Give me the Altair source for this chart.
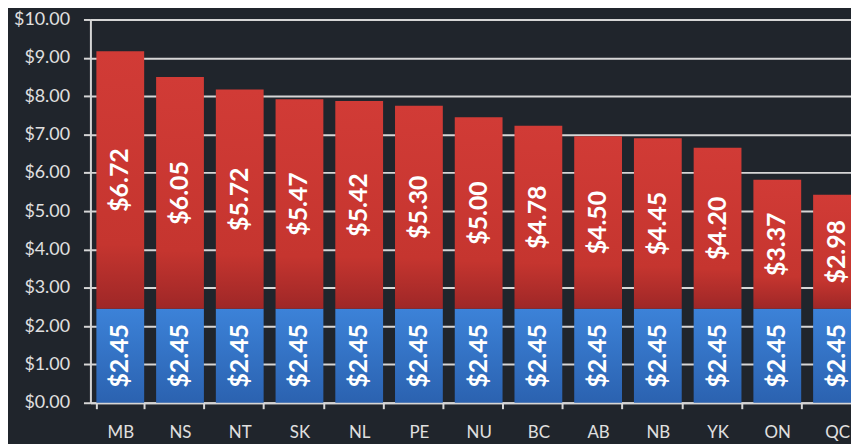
import altair as alt
import pandas as pd

provinces = ["MB", "NS", "NT", "SK", "NL", "PE", "NU", "BC", "AB", "NB", "YK", "ON", "QC"]
base_values = [2.45] * 13
extra_values = [6.72, 6.05, 5.72, 5.47, 5.42, 5.30, 5.00, 4.78, 4.50, 4.45, 4.20, 3.37, 2.98]

df = pd.DataFrame({"prov": provinces, "base": base_values, "extra": extra_values})

FONT = "Lato"
BG = "#20252c"
GRID = "#d6d6d6"

x_enc = alt.X(
    "prov:N",
    sort=provinces,
    scale=alt.Scale(range=[0, 782], paddingInner=0.2, paddingOuter=0.1),
    axis=alt.Axis(
        title=None, labelAngle=0, labelFont=FONT, labelFontSize=17, labelColor="#e0e0e0",
        labelPadding=16, tickBand="extent", tickSize=6, tickColor=GRID, tickWidth=2,
        domainColor=GRID, domainWidth=2, grid=False,
    ),
)
y_scale = alt.Scale(domain=[0, 10], nice=False)
y_axis = alt.Axis(
    title=None, values=list(range(0, 11)), format="$.2f", labelFont=FONT, labelFontSize=18,
    labelColor="#e0e0e0", labelPadding=14, tickSize=7, tickColor=GRID, tickWidth=2,
    domainColor=GRID, domainWidth=2, grid=True, gridColor=GRID, gridWidth=2,
)

base = alt.Chart(df).transform_calculate(
    total="datum.base + datum.extra",
    zero="0",
    mid_base="datum.base / 2",
    mid_extra="datum.base + datum.extra / 2",
)

blue_grad = alt.Gradient(
    gradient="linear", x1=0, x2=0, y1=0, y2=1,
    stops=[alt.GradientStop(color="#3c82d8", offset=0), alt.GradientStop(color="#2b62b0", offset=1)],
)
red_grad = alt.Gradient(
    gradient="linear", x1=0, x2=0, y1=0, y2=1,
    stops=[alt.GradientStop(color="#d13b36", offset=0), alt.GradientStop(color="#c5352f", offset=0.75),
           alt.GradientStop(color="#9e2727", offset=1)],
)

blue = base.mark_bar(color=blue_grad).encode(
    x=x_enc,
    y=alt.Y("zero:Q", scale=y_scale, axis=y_axis),
    y2="base:Q",
)
red = base.mark_bar(color=red_grad).encode(
    x=x_enc,
    y=alt.Y("base:Q", scale=y_scale, axis=y_axis),
    y2="total:Q",
)
txt_style = dict(angle=270, align="center", baseline="middle", font=FONT, fontSize=25,
                 fontWeight="bold", color="white")
blue_txt = base.mark_text(**txt_style).encode(
    x=x_enc,
    y=alt.Y("mid_base:Q", scale=y_scale, axis=y_axis),
    text=alt.Text("base:Q", format="$.2f"),
)
red_txt = base.mark_text(**txt_style).encode(
    x=x_enc,
    y=alt.Y("mid_extra:Q", scale=y_scale, axis=y_axis),
    text=alt.Text("extra:Q", format="$.2f"),
)

chart = alt.layer(blue, red, blue_txt, red_txt).properties(
    width=766,
    height=386,
    background=BG,
    autosize=alt.AutoSizeParams(type="none"),
    padding={"left": 83, "top": 10, "right": 0, "bottom": 40},
).configure_view(stroke=None)

chart.save("out.html", embed_options={"renderer": "svg", "actions": False})
